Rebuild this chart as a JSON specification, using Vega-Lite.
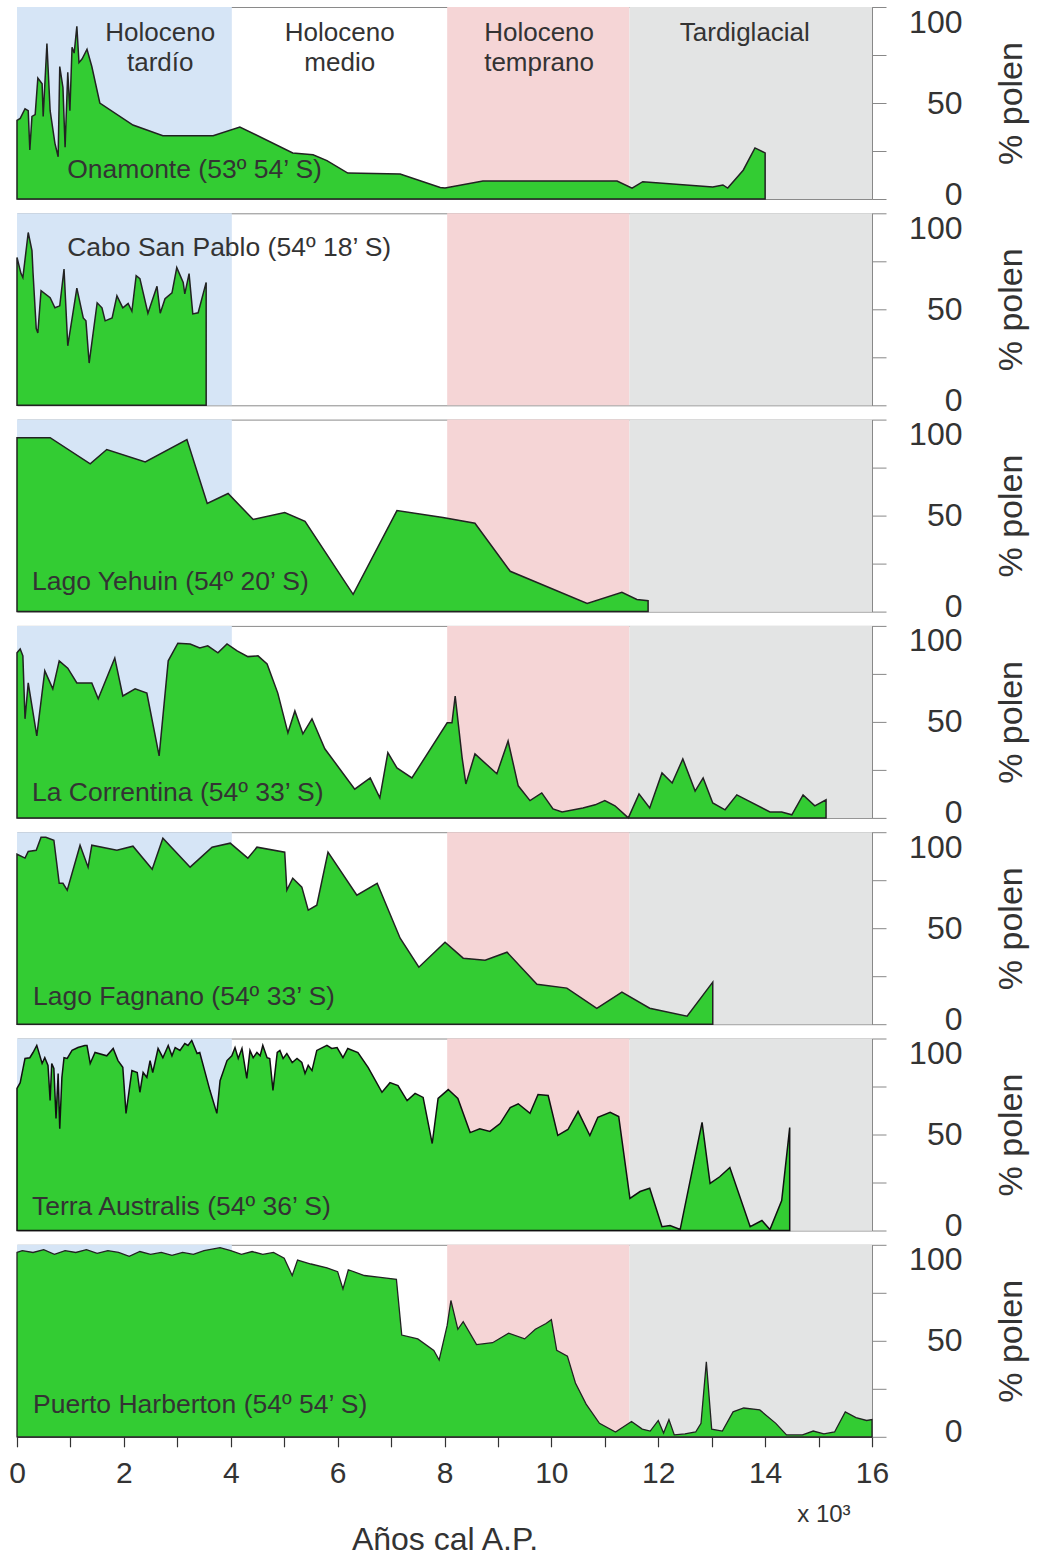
{
  "$schema": "https://vega.github.io/schema/vega-lite/v6.json",
  "padding": {"left": 8, "top": 5, "right": 2, "bottom": 2},
  "background": "white",
  "bounds": "flush",
  "spacing": 14.3,
  "config": {
    "font": "Liberation Sans",
    "view": {"stroke": "#8a8a8a", "strokeWidth": 1}
  },
  "datasets": {
    "bands": [
      {"period": "Holoceno tardío", "start": 0, "end": 4.02},
      {"period": "Holoceno temprano", "start": 8.05, "end": 11.46},
      {"period": "Tardiglacial", "start": 11.46, "end": 16}
    ],
    "onamonte": [
      {"age":0,"pct":41},{"age":0.06,"pct":42},{"age":0.15,"pct":47},{"age":0.21,"pct":46},{"age":0.24,"pct":25.5},{"age":0.28,"pct":43},{"age":0.34,"pct":44},{"age":0.39,"pct":63},{"age":0.47,"pct":60},{"age":0.49,"pct":43},{"age":0.56,"pct":81},{"age":0.62,"pct":46},{"age":0.71,"pct":29},{"age":0.77,"pct":22},{"age":0.80,"pct":69},{"age":0.86,"pct":58},{"age":0.90,"pct":27},{"age":0.95,"pct":66},{"age":0.99,"pct":46},{"age":1.03,"pct":79},{"age":1.07,"pct":76},{"age":1.12,"pct":90},{"age":1.16,"pct":71},{"age":1.22,"pct":73},{"age":1.31,"pct":78},{"age":1.40,"pct":69},{"age":1.55,"pct":50},{"age":2.17,"pct":38.5},{"age":2.73,"pct":33},{"age":3.67,"pct":33},{"age":4.17,"pct":37.5},{"age":5.16,"pct":24},{"age":5.54,"pct":23},{"age":5.80,"pct":20},{"age":6.19,"pct":13.5},{"age":7.17,"pct":13},{"age":7.92,"pct":6},{"age":8.01,"pct":5.7},{"age":8.72,"pct":9.4},{"age":11.23,"pct":9.4},{"age":11.51,"pct":5.7},{"age":11.71,"pct":9},{"age":13.02,"pct":6.3},{"age":13.21,"pct":7.3},{"age":13.30,"pct":5.7},{"age":13.59,"pct":15},{"age":13.81,"pct":26.6},{"age":14.0,"pct":24}
    ],
    "cabo": [
      {"age":0,"pct":77},{"age":0.075,"pct":68.6},{"age":0.11,"pct":66.5},{"age":0.21,"pct":90},{"age":0.28,"pct":80.6},{"age":0.30,"pct":69},{"age":0.36,"pct":40},{"age":0.39,"pct":37.7},{"age":0.45,"pct":59.7},{"age":0.62,"pct":56},{"age":0.71,"pct":50.8},{"age":0.80,"pct":51.8},{"age":0.88,"pct":71},{"age":0.95,"pct":31},{"age":1.12,"pct":61},{"age":1.24,"pct":45.5},{"age":1.29,"pct":44},{"age":1.35,"pct":22},{"age":1.50,"pct":53.4},{"age":1.59,"pct":50.8},{"age":1.65,"pct":44},{"age":1.78,"pct":45.5},{"age":1.87,"pct":57},{"age":1.98,"pct":50.8},{"age":2.08,"pct":53},{"age":2.15,"pct":49},{"age":2.23,"pct":67.5},{"age":2.30,"pct":66},{"age":2.45,"pct":48},{"age":2.62,"pct":62},{"age":2.68,"pct":48},{"age":2.77,"pct":55.5},{"age":2.90,"pct":58.6},{"age":2.99,"pct":71.7},{"age":3.11,"pct":64},{"age":3.14,"pct":58},{"age":3.22,"pct":68.6},{"age":3.29,"pct":47.6},{"age":3.39,"pct":48.2},{"age":3.54,"pct":64}
    ],
    "yehuin": [
      {"age":0,"pct":90.6},{"age":0.62,"pct":90.6},{"age":1.37,"pct":77},{"age":1.68,"pct":84.4},{"age":2.40,"pct":78},{"age":3.18,"pct":89.6},{"age":3.56,"pct":56.3},{"age":3.95,"pct":61.5},{"age":4.42,"pct":48},{"age":5.01,"pct":51.6},{"age":5.39,"pct":47},{"age":6.29,"pct":9},{"age":7.11,"pct":52.6},{"age":7.97,"pct":49},{"age":8.57,"pct":46},{"age":9.23,"pct":21},{"age":10.67,"pct":4.2},{"age":11.32,"pct":10},{"age":11.60,"pct":6.3},{"age":11.81,"pct":5.7}
    ],
    "correntina": [
      {"age":0,"pct":86},{"age":0.06,"pct":88},{"age":0.11,"pct":84.4},{"age":0.15,"pct":51.6},{"age":0.21,"pct":70.3},{"age":0.37,"pct":42.7},{"age":0.52,"pct":76.6},{"age":0.67,"pct":67.2},{"age":0.79,"pct":81.8},{"age":0.95,"pct":78},{"age":1.12,"pct":70.3},{"age":1.40,"pct":70.3},{"age":1.52,"pct":62},{"age":1.83,"pct":83.3},{"age":1.98,"pct":63.5},{"age":2.21,"pct":67.2},{"age":2.43,"pct":65},{"age":2.66,"pct":32.3},{"age":2.83,"pct":81.8},{"age":3.01,"pct":91},{"age":3.24,"pct":90.6},{"age":3.42,"pct":88.5},{"age":3.57,"pct":89.6},{"age":3.76,"pct":86},{"age":3.93,"pct":90.6},{"age":4.12,"pct":87},{"age":4.32,"pct":84},{"age":4.51,"pct":84.4},{"age":4.68,"pct":80.2},{"age":4.88,"pct":65},{"age":5.07,"pct":44.3},{"age":5.20,"pct":55.7},{"age":5.35,"pct":43.8},{"age":5.52,"pct":51.6},{"age":5.76,"pct":36},{"age":6.04,"pct":25.5},{"age":6.32,"pct":15},{"age":6.61,"pct":20.8},{"age":6.79,"pct":10.4},{"age":6.94,"pct":34},{"age":7.11,"pct":26},{"age":7.39,"pct":20.8},{"age":8.05,"pct":49.5},{"age":8.14,"pct":49.5},{"age":8.20,"pct":63.5},{"age":8.33,"pct":31.3},{"age":8.40,"pct":17.7},{"age":8.57,"pct":33.3},{"age":8.98,"pct":23},{"age":9.19,"pct":40},{"age":9.38,"pct":16.7},{"age":9.60,"pct":9},{"age":9.82,"pct":13},{"age":10.03,"pct":4.7},{"age":10.20,"pct":3.1},{"age":10.59,"pct":5.2},{"age":10.82,"pct":6.8},{"age":11.00,"pct":9},{"age":11.19,"pct":6.3},{"age":11.44,"pct":0},{"age":11.64,"pct":12.5},{"age":11.84,"pct":5.2},{"age":12.07,"pct":23.4},{"age":12.26,"pct":18.2},{"age":12.46,"pct":30.7},{"age":12.69,"pct":14},{"age":12.84,"pct":20.8},{"age":13.02,"pct":7.8},{"age":13.25,"pct":4.2},{"age":13.47,"pct":12},{"age":14.09,"pct":3.1},{"age":14.31,"pct":3.1},{"age":14.50,"pct":1.6},{"age":14.71,"pct":12},{"age":14.93,"pct":6.3},{"age":15.14,"pct":9.4}
    ],
    "fagnano": [
      {"age":0,"pct":88.5},{"age":0.15,"pct":86.5},{"age":0.21,"pct":90},{"age":0.36,"pct":90.6},{"age":0.45,"pct":97.4},{"age":0.54,"pct":97.4},{"age":0.69,"pct":95.8},{"age":0.79,"pct":73.4},{"age":0.86,"pct":73.4},{"age":0.94,"pct":69.8},{"age":1.18,"pct":93.2},{"age":1.33,"pct":81.8},{"age":1.40,"pct":93.2},{"age":1.87,"pct":90.6},{"age":2.17,"pct":92.7},{"age":2.53,"pct":80.7},{"age":2.73,"pct":96.9},{"age":3.24,"pct":81.8},{"age":3.65,"pct":92.2},{"age":3.99,"pct":94.3},{"age":4.32,"pct":86.5},{"age":4.49,"pct":92.2},{"age":5.01,"pct":89.6},{"age":5.05,"pct":69.8},{"age":5.16,"pct":76},{"age":5.33,"pct":71.4},{"age":5.45,"pct":59.4},{"age":5.61,"pct":62},{"age":5.82,"pct":89.6},{"age":6.36,"pct":67.2},{"age":6.74,"pct":73.4},{"age":7.17,"pct":44.8},{"age":7.52,"pct":29.7},{"age":8.01,"pct":42.7},{"age":8.35,"pct":34.4},{"age":8.76,"pct":33.3},{"age":9.17,"pct":37.5},{"age":9.73,"pct":20.8},{"age":10.29,"pct":18.8},{"age":10.85,"pct":8.3},{"age":11.32,"pct":16.7},{"age":11.84,"pct":8.3},{"age":12.54,"pct":4.2},{"age":13.02,"pct":21.9}
    ],
    "terra": [
      {"age":0,"pct":74},{"age":0.06,"pct":77},{"age":0.15,"pct":89.6},{"age":0.24,"pct":90},{"age":0.30,"pct":92.7},{"age":0.37,"pct":96.4},{"age":0.47,"pct":87},{"age":0.52,"pct":90},{"age":0.58,"pct":86},{"age":0.62,"pct":67.7},{"age":0.65,"pct":87},{"age":0.69,"pct":84.4},{"age":0.73,"pct":58.3},{"age":0.77,"pct":81.8},{"age":0.80,"pct":53},{"age":0.84,"pct":79.7},{"age":0.88,"pct":90},{"age":0.94,"pct":89.6},{"age":1.03,"pct":93.8},{"age":1.14,"pct":95.3},{"age":1.27,"pct":96.4},{"age":1.31,"pct":96.4},{"age":1.37,"pct":87},{"age":1.46,"pct":92.7},{"age":1.68,"pct":91},{"age":1.80,"pct":94.8},{"age":1.89,"pct":88.5},{"age":1.98,"pct":85},{"age":2.04,"pct":61},{"age":2.15,"pct":83.3},{"age":2.25,"pct":82.3},{"age":2.30,"pct":72},{"age":2.36,"pct":82.3},{"age":2.43,"pct":79.7},{"age":2.49,"pct":88.5},{"age":2.54,"pct":82.3},{"age":2.64,"pct":94.8},{"age":2.73,"pct":90},{"age":2.83,"pct":96.4},{"age":2.90,"pct":91},{"age":2.96,"pct":95.3},{"age":3.05,"pct":93.8},{"age":3.14,"pct":97.4},{"age":3.20,"pct":96.4},{"age":3.27,"pct":99},{"age":3.37,"pct":92.2},{"age":3.42,"pct":92.7},{"age":3.61,"pct":73},{"age":3.74,"pct":61},{"age":3.80,"pct":78},{"age":3.93,"pct":88.5},{"age":4.02,"pct":91},{"age":4.08,"pct":95.3},{"age":4.14,"pct":89.6},{"age":4.21,"pct":94.8},{"age":4.30,"pct":79.2},{"age":4.36,"pct":93.8},{"age":4.42,"pct":90},{"age":4.49,"pct":92.7},{"age":4.55,"pct":91},{"age":4.60,"pct":96.4},{"age":4.68,"pct":90},{"age":4.73,"pct":89.6},{"age":4.79,"pct":73},{"age":4.87,"pct":92.7},{"age":4.92,"pct":93.8},{"age":4.98,"pct":89.6},{"age":5.05,"pct":92.2},{"age":5.15,"pct":87.5},{"age":5.24,"pct":89.6},{"age":5.33,"pct":87.5},{"age":5.39,"pct":81.8},{"age":5.45,"pct":86},{"age":5.52,"pct":83.3},{"age":5.61,"pct":93.8},{"age":5.80,"pct":96.4},{"age":5.89,"pct":94.8},{"age":5.99,"pct":95.3},{"age":6.10,"pct":90},{"age":6.19,"pct":94.8},{"age":6.38,"pct":92.7},{"age":6.57,"pct":85},{"age":6.83,"pct":72},{"age":6.98,"pct":77},{"age":7.13,"pct":75.5},{"age":7.30,"pct":67.7},{"age":7.45,"pct":71.4},{"age":7.60,"pct":69.3},{"age":7.77,"pct":45.3},{"age":7.88,"pct":68.8},{"age":8.07,"pct":73.4},{"age":8.25,"pct":68.8},{"age":8.48,"pct":51},{"age":8.66,"pct":53},{"age":8.85,"pct":51.6},{"age":9.04,"pct":55.7},{"age":9.23,"pct":64},{"age":9.38,"pct":66},{"age":9.60,"pct":61},{"age":9.75,"pct":70.8},{"age":9.94,"pct":70.3},{"age":10.12,"pct":49.5},{"age":10.31,"pct":52.6},{"age":10.50,"pct":62},{"age":10.72,"pct":49.5},{"age":10.87,"pct":59},{"age":11.10,"pct":61.5},{"age":11.26,"pct":59.4},{"age":11.47,"pct":16.7},{"age":11.66,"pct":20.3},{"age":11.84,"pct":22},{"age":12.07,"pct":2},{"age":12.22,"pct":2.6},{"age":12.41,"pct":0.5},{"age":12.82,"pct":56.3},{"age":12.97,"pct":24.5},{"age":13.15,"pct":28},{"age":13.34,"pct":32.8},{"age":13.72,"pct":2},{"age":13.94,"pct":5.2},{"age":14.09,"pct":0.5},{"age":14.31,"pct":15.6},{"age":14.46,"pct":53.6}
    ],
    "harberton": [
      {"age":0,"pct":96},{"age":0.1,"pct":97},{"age":0.3,"pct":96},{"age":0.5,"pct":97.5},{"age":0.7,"pct":95},{"age":0.9,"pct":97},{"age":1.1,"pct":96},{"age":1.3,"pct":97.5},{"age":1.5,"pct":95.5},{"age":1.7,"pct":97},{"age":1.9,"pct":96},{"age":2.1,"pct":94},{"age":2.3,"pct":96.5},{"age":2.5,"pct":95},{"age":2.7,"pct":96},{"age":2.9,"pct":94.5},{"age":3.1,"pct":96},{"age":3.3,"pct":95},{"age":3.5,"pct":97},{"age":3.8,"pct":98.5},{"age":4.0,"pct":97},{"age":4.2,"pct":95},{"age":4.4,"pct":96.5},{"age":4.6,"pct":95},{"age":4.8,"pct":96},{"age":5.0,"pct":93},{"age":5.15,"pct":84},{"age":5.25,"pct":92},{"age":5.5,"pct":90},{"age":5.8,"pct":88},{"age":6.0,"pct":86},{"age":6.1,"pct":77},{"age":6.2,"pct":87},{"age":6.5,"pct":84},{"age":6.8,"pct":83},{"age":7.1,"pct":82},{"age":7.2,"pct":53},{"age":7.5,"pct":51},{"age":7.8,"pct":45},{"age":7.9,"pct":40},{"age":8.05,"pct":58},{"age":8.12,"pct":71},{"age":8.25,"pct":56},{"age":8.35,"pct":60},{"age":8.6,"pct":48},{"age":8.9,"pct":49},{"age":9.2,"pct":54},{"age":9.5,"pct":51},{"age":9.7,"pct":56},{"age":9.9,"pct":59},{"age":10.0,"pct":61},{"age":10.1,"pct":45},{"age":10.3,"pct":42},{"age":10.45,"pct":28},{"age":10.65,"pct":17},{"age":10.9,"pct":7},{"age":11.2,"pct":2.5},{"age":11.5,"pct":8},{"age":11.7,"pct":4},{"age":11.85,"pct":3},{"age":12.0,"pct":8.5},{"age":12.1,"pct":2},{"age":12.2,"pct":9},{"age":12.3,"pct":1},{"age":12.5,"pct":1.5},{"age":12.7,"pct":2.5},{"age":12.8,"pct":7},{"age":12.9,"pct":39},{"age":13.0,"pct":4},{"age":13.2,"pct":3},{"age":13.4,"pct":13},{"age":13.6,"pct":15},{"age":13.9,"pct":14},{"age":14.2,"pct":7},{"age":14.4,"pct":1},{"age":14.7,"pct":1},{"age":14.9,"pct":3},{"age":15.1,"pct":1.5},{"age":15.3,"pct":2.5},{"age":15.5,"pct":13},{"age":15.7,"pct":10},{"age":15.9,"pct":8.5},{"age":16.0,"pct":9}
    ]
  },
  "vconcat": [
    {
      "width": 855, "height": 192,
      "layer": [
        {"data": {"name": "bands"}, "mark": {"type": "rect"},
         "encoding": {"x": {"field": "start", "type": "quantitative", "scale": {"domain": [0, 16], "nice": false}, "axis": null}, "x2": {"field": "end"},
          "color": {"field": "period", "type": "nominal", "scale": {"domain": ["Holoceno tardío", "Holoceno temprano", "Tardiglacial"], "range": ["#d6e5f6", "#f5d5d6", "#e3e4e4"]}, "legend": null}}},
        {"data": {"name": "onamonte"}, "mark": {"type": "area", "fill": "#33cc33", "stroke": "#222222", "strokeWidth": 1.5, "fillOpacity": 1},
         "encoding": {"x": {"field": "age", "type": "quantitative", "axis": null},
          "y": {"field": "pct", "type": "quantitative", "scale": {"domain": [0, 100], "nice": false},
           "axis": {"orient": "right", "values": [0, 25, 50, 75, 100], "labelExpr": "datum.value % 50 == 0 ? datum.label : ''", "tickSize": 14, "tickColor": "#888", "domainColor": "#888", "labelAlign": "right", "labelPadding": 76, "labelFontSize": 32, "labelColor": "#333", "labelOverlap": false, "labelFlush": false, "labelBaseline": {"condition": [{"test": "datum.value == 100", "value": "top"}, {"test": "datum.value == 0", "value": "alphabetic"}], "value": "middle"}, "labelOffset": {"condition": {"test": "datum.value == 0", "value": 5}, "value": 0}, "title": "% polen", "titleFontSize": 34, "titleFontWeight": "normal", "titleColor": "#333", "titleAngle": 270, "titleBaseline": "top", "titlePadding": 32, "grid": false}}}},
        {"data": {"values": [{"label": "Onamonte (53º 54’ S)"}]}, "mark": {"type": "text", "align": "left", "baseline": "middle", "fontSize": 26.5, "color": "#333333"},
         "encoding": {"x": {"datum": 0.94, "type": "quantitative"}, "y": {"datum": 15, "type": "quantitative"}, "text": {"field": "label"}}},
        {"data": {"values": [{"label": "Holoceno\ntardío"}]}, "mark": {"type": "text", "align": "center", "baseline": "middle", "fontSize": 26, "lineHeight": 30, "lineBreak": "\n", "color": "#333333"},
         "encoding": {"x": {"datum": 2.68, "type": "quantitative"}, "y": {"datum": 86.5, "type": "quantitative"}, "text": {"field": "label"}}},
        {"data": {"values": [{"label": "Holoceno\nmedio"}]}, "mark": {"type": "text", "align": "center", "baseline": "middle", "fontSize": 26, "lineHeight": 30, "lineBreak": "\n", "color": "#333333"},
         "encoding": {"x": {"datum": 6.04, "type": "quantitative"}, "y": {"datum": 86.5, "type": "quantitative"}, "text": {"field": "label"}}},
        {"data": {"values": [{"label": "Holoceno\ntemprano"}]}, "mark": {"type": "text", "align": "center", "baseline": "middle", "fontSize": 26, "lineHeight": 30, "lineBreak": "\n", "color": "#333333"},
         "encoding": {"x": {"datum": 9.77, "type": "quantitative"}, "y": {"datum": 86.5, "type": "quantitative"}, "text": {"field": "label"}}},
        {"data": {"values": [{"label": "Tardiglacial"}]}, "mark": {"type": "text", "align": "center", "baseline": "middle", "fontSize": 26, "color": "#333333"},
         "encoding": {"x": {"datum": 13.62, "type": "quantitative"}, "y": {"datum": 86.5, "type": "quantitative"}, "text": {"field": "label"}}}
      ]
    },
    {
      "width": 855, "height": 192,
      "layer": [
        {"data": {"name": "bands"}, "mark": {"type": "rect"},
         "encoding": {"x": {"field": "start", "type": "quantitative", "scale": {"domain": [0, 16], "nice": false}, "axis": null}, "x2": {"field": "end"},
          "color": {"field": "period", "type": "nominal", "scale": {"domain": ["Holoceno tardío", "Holoceno temprano", "Tardiglacial"], "range": ["#d6e5f6", "#f5d5d6", "#e3e4e4"]}, "legend": null}}},
        {"data": {"name": "cabo"}, "mark": {"type": "area", "fill": "#33cc33", "stroke": "#222222", "strokeWidth": 1.5, "fillOpacity": 1},
         "encoding": {"x": {"field": "age", "type": "quantitative", "axis": null},
          "y": {"field": "pct", "type": "quantitative", "scale": {"domain": [0, 100], "nice": false},
           "axis": {"orient": "right", "values": [0, 25, 50, 75, 100], "labelExpr": "datum.value % 50 == 0 ? datum.label : ''", "tickSize": 14, "tickColor": "#888", "domainColor": "#888", "labelAlign": "right", "labelPadding": 76, "labelFontSize": 32, "labelColor": "#333", "labelOverlap": false, "labelFlush": false, "labelBaseline": {"condition": [{"test": "datum.value == 100", "value": "top"}, {"test": "datum.value == 0", "value": "alphabetic"}], "value": "middle"}, "labelOffset": {"condition": {"test": "datum.value == 0", "value": 5}, "value": 0}, "title": "% polen", "titleFontSize": 34, "titleFontWeight": "normal", "titleColor": "#333", "titleAngle": 270, "titleBaseline": "top", "titlePadding": 32, "grid": false}}}},
        {"data": {"values": [{"label": "Cabo San Pablo (54º 18’ S)"}]}, "mark": {"type": "text", "align": "left", "baseline": "middle", "fontSize": 26.5, "color": "#333333"},
         "encoding": {"x": {"datum": 0.94, "type": "quantitative"}, "y": {"datum": 82, "type": "quantitative"}, "text": {"field": "label"}}}
      ]
    },
    {
      "width": 855, "height": 192,
      "layer": [
        {"data": {"name": "bands"}, "mark": {"type": "rect"},
         "encoding": {"x": {"field": "start", "type": "quantitative", "scale": {"domain": [0, 16], "nice": false}, "axis": null}, "x2": {"field": "end"},
          "color": {"field": "period", "type": "nominal", "scale": {"domain": ["Holoceno tardío", "Holoceno temprano", "Tardiglacial"], "range": ["#d6e5f6", "#f5d5d6", "#e3e4e4"]}, "legend": null}}},
        {"data": {"name": "yehuin"}, "mark": {"type": "area", "fill": "#33cc33", "stroke": "#222222", "strokeWidth": 1.5, "fillOpacity": 1},
         "encoding": {"x": {"field": "age", "type": "quantitative", "axis": null},
          "y": {"field": "pct", "type": "quantitative", "scale": {"domain": [0, 100], "nice": false},
           "axis": {"orient": "right", "values": [0, 25, 50, 75, 100], "labelExpr": "datum.value % 50 == 0 ? datum.label : ''", "tickSize": 14, "tickColor": "#888", "domainColor": "#888", "labelAlign": "right", "labelPadding": 76, "labelFontSize": 32, "labelColor": "#333", "labelOverlap": false, "labelFlush": false, "labelBaseline": {"condition": [{"test": "datum.value == 100", "value": "top"}, {"test": "datum.value == 0", "value": "alphabetic"}], "value": "middle"}, "labelOffset": {"condition": {"test": "datum.value == 0", "value": 5}, "value": 0}, "title": "% polen", "titleFontSize": 34, "titleFontWeight": "normal", "titleColor": "#333", "titleAngle": 270, "titleBaseline": "top", "titlePadding": 32, "grid": false}}}},
        {"data": {"values": [{"label": "Lago Yehuin (54º 20’ S)"}]}, "mark": {"type": "text", "align": "left", "baseline": "middle", "fontSize": 26.5, "color": "#333333"},
         "encoding": {"x": {"datum": 0.28, "type": "quantitative"}, "y": {"datum": 15.6, "type": "quantitative"}, "text": {"field": "label"}}}
      ]
    },
    {
      "width": 855, "height": 192,
      "layer": [
        {"data": {"name": "bands"}, "mark": {"type": "rect"},
         "encoding": {"x": {"field": "start", "type": "quantitative", "scale": {"domain": [0, 16], "nice": false}, "axis": null}, "x2": {"field": "end"},
          "color": {"field": "period", "type": "nominal", "scale": {"domain": ["Holoceno tardío", "Holoceno temprano", "Tardiglacial"], "range": ["#d6e5f6", "#f5d5d6", "#e3e4e4"]}, "legend": null}}},
        {"data": {"name": "correntina"}, "mark": {"type": "area", "fill": "#33cc33", "stroke": "#222222", "strokeWidth": 1.5, "fillOpacity": 1},
         "encoding": {"x": {"field": "age", "type": "quantitative", "axis": null},
          "y": {"field": "pct", "type": "quantitative", "scale": {"domain": [0, 100], "nice": false},
           "axis": {"orient": "right", "values": [0, 25, 50, 75, 100], "labelExpr": "datum.value % 50 == 0 ? datum.label : ''", "tickSize": 14, "tickColor": "#888", "domainColor": "#888", "labelAlign": "right", "labelPadding": 76, "labelFontSize": 32, "labelColor": "#333", "labelOverlap": false, "labelFlush": false, "labelBaseline": {"condition": [{"test": "datum.value == 100", "value": "top"}, {"test": "datum.value == 0", "value": "alphabetic"}], "value": "middle"}, "labelOffset": {"condition": {"test": "datum.value == 0", "value": 5}, "value": 0}, "title": "% polen", "titleFontSize": 34, "titleFontWeight": "normal", "titleColor": "#333", "titleAngle": 270, "titleBaseline": "top", "titlePadding": 32, "grid": false}}}},
        {"data": {"values": [{"label": "La Correntina (54º 33’ S)"}]}, "mark": {"type": "text", "align": "left", "baseline": "middle", "fontSize": 26.5, "color": "#333333"},
         "encoding": {"x": {"datum": 0.28, "type": "quantitative"}, "y": {"datum": 13, "type": "quantitative"}, "text": {"field": "label"}}}
      ]
    },
    {
      "width": 855, "height": 192,
      "layer": [
        {"data": {"name": "bands"}, "mark": {"type": "rect"},
         "encoding": {"x": {"field": "start", "type": "quantitative", "scale": {"domain": [0, 16], "nice": false}, "axis": null}, "x2": {"field": "end"},
          "color": {"field": "period", "type": "nominal", "scale": {"domain": ["Holoceno tardío", "Holoceno temprano", "Tardiglacial"], "range": ["#d6e5f6", "#f5d5d6", "#e3e4e4"]}, "legend": null}}},
        {"data": {"name": "fagnano"}, "mark": {"type": "area", "fill": "#33cc33", "stroke": "#222222", "strokeWidth": 1.5, "fillOpacity": 1},
         "encoding": {"x": {"field": "age", "type": "quantitative", "axis": null},
          "y": {"field": "pct", "type": "quantitative", "scale": {"domain": [0, 100], "nice": false},
           "axis": {"orient": "right", "values": [0, 25, 50, 75, 100], "labelExpr": "datum.value % 50 == 0 ? datum.label : ''", "tickSize": 14, "tickColor": "#888", "domainColor": "#888", "labelAlign": "right", "labelPadding": 76, "labelFontSize": 32, "labelColor": "#333", "labelOverlap": false, "labelFlush": false, "labelBaseline": {"condition": [{"test": "datum.value == 100", "value": "top"}, {"test": "datum.value == 0", "value": "alphabetic"}], "value": "middle"}, "labelOffset": {"condition": {"test": "datum.value == 0", "value": 5}, "value": 0}, "title": "% polen", "titleFontSize": 34, "titleFontWeight": "normal", "titleColor": "#333", "titleAngle": 270, "titleBaseline": "top", "titlePadding": 32, "grid": false}}}},
        {"data": {"values": [{"label": "Lago Fagnano (54º 33’ S)"}]}, "mark": {"type": "text", "align": "left", "baseline": "middle", "fontSize": 26.5, "color": "#333333"},
         "encoding": {"x": {"datum": 0.3, "type": "quantitative"}, "y": {"datum": 14, "type": "quantitative"}, "text": {"field": "label"}}}
      ]
    },
    {
      "width": 855, "height": 192,
      "layer": [
        {"data": {"name": "bands"}, "mark": {"type": "rect"},
         "encoding": {"x": {"field": "start", "type": "quantitative", "scale": {"domain": [0, 16], "nice": false}, "axis": null}, "x2": {"field": "end"},
          "color": {"field": "period", "type": "nominal", "scale": {"domain": ["Holoceno tardío", "Holoceno temprano", "Tardiglacial"], "range": ["#d6e5f6", "#f5d5d6", "#e3e4e4"]}, "legend": null}}},
        {"data": {"name": "terra"}, "mark": {"type": "area", "fill": "#33cc33", "stroke": "#111111", "strokeWidth": 1.5, "fillOpacity": 1},
         "encoding": {"x": {"field": "age", "type": "quantitative", "axis": null},
          "y": {"field": "pct", "type": "quantitative", "scale": {"domain": [0, 100], "nice": false},
           "axis": {"orient": "right", "values": [0, 25, 50, 75, 100], "labelExpr": "datum.value % 50 == 0 ? datum.label : ''", "tickSize": 14, "tickColor": "#888", "domainColor": "#888", "labelAlign": "right", "labelPadding": 76, "labelFontSize": 32, "labelColor": "#333", "labelOverlap": false, "labelFlush": false, "labelBaseline": {"condition": [{"test": "datum.value == 100", "value": "top"}, {"test": "datum.value == 0", "value": "alphabetic"}], "value": "middle"}, "labelOffset": {"condition": {"test": "datum.value == 0", "value": 5}, "value": 0}, "title": "% polen", "titleFontSize": 34, "titleFontWeight": "normal", "titleColor": "#333", "titleAngle": 270, "titleBaseline": "top", "titlePadding": 32, "grid": false}}}},
        {"data": {"values": [{"label": "Terra Australis (54º 36’ S)"}]}, "mark": {"type": "text", "align": "left", "baseline": "middle", "fontSize": 26.5, "color": "#333333"},
         "encoding": {"x": {"datum": 0.28, "type": "quantitative"}, "y": {"datum": 12, "type": "quantitative"}, "text": {"field": "label"}}}
      ]
    },
    {
      "width": 855, "height": 192,
      "layer": [
        {"data": {"name": "bands"}, "mark": {"type": "rect"},
         "encoding": {"x": {"field": "start", "type": "quantitative", "scale": {"domain": [0, 16], "nice": false},
           "axis": {"values": [0,1,2,3,4,5,6,7,8,9,10,11,12,13,14,15,16], "labelExpr": "datum.value % 2 == 0 ? datum.label : ''", "tickSize": 10, "tickColor": "#333", "tickWidth": 1.2, "domainColor": "#333", "labelFontSize": 30, "labelColor": "#333", "labelPadding": 12, "labelFlush": false, "labelOverlap": false, "grid": false, "title": "Años cal A.P.", "titleFontSize": 32, "titleFontWeight": "normal", "titleColor": "#333", "titlePadding": 36}},
          "x2": {"field": "end"},
          "color": {"field": "period", "type": "nominal", "scale": {"domain": ["Holoceno tardío", "Holoceno temprano", "Tardiglacial"], "range": ["#d6e5f6", "#f5d5d6", "#e3e4e4"]}, "legend": null}}},
        {"data": {"name": "harberton"}, "mark": {"type": "area", "fill": "#33cc33", "stroke": "#222222", "strokeWidth": 1.3, "fillOpacity": 1},
         "encoding": {"x": {"field": "age", "type": "quantitative"},
          "y": {"field": "pct", "type": "quantitative", "scale": {"domain": [0, 100], "nice": false},
           "axis": {"orient": "right", "values": [0, 25, 50, 75, 100], "labelExpr": "datum.value % 50 == 0 ? datum.label : ''", "tickSize": 14, "tickColor": "#888", "domainColor": "#888", "labelAlign": "right", "labelPadding": 76, "labelFontSize": 32, "labelColor": "#333", "labelOverlap": false, "labelFlush": false, "labelBaseline": {"condition": [{"test": "datum.value == 100", "value": "top"}, {"test": "datum.value == 0", "value": "alphabetic"}], "value": "middle"}, "labelOffset": {"condition": {"test": "datum.value == 0", "value": 5}, "value": 0}, "title": "% polen", "titleFontSize": 34, "titleFontWeight": "normal", "titleColor": "#333", "titleAngle": 270, "titleBaseline": "top", "titlePadding": 32, "grid": false}}}},
        {"data": {"values": [{"label": "Puerto Harberton (54º 54’ S)"}]}, "mark": {"type": "text", "align": "left", "baseline": "middle", "fontSize": 26.5, "color": "#333333"},
         "encoding": {"x": {"datum": 0.3, "type": "quantitative"}, "y": {"datum": 16.7, "type": "quantitative"}, "text": {"field": "label"}}},
        {"data": {"values": [{"label": "x 10³"}]}, "mark": {"type": "text", "align": "center", "baseline": "middle", "fontSize": 24, "color": "#333333"},
         "encoding": {"x": {"datum": 15.1, "type": "quantitative"}, "y": {"datum": -40.6, "type": "quantitative", "scale": {"domain": [0, 100], "nice": false}}, "text": {"field": "label"}}}
      ]
    }
  ]
}
